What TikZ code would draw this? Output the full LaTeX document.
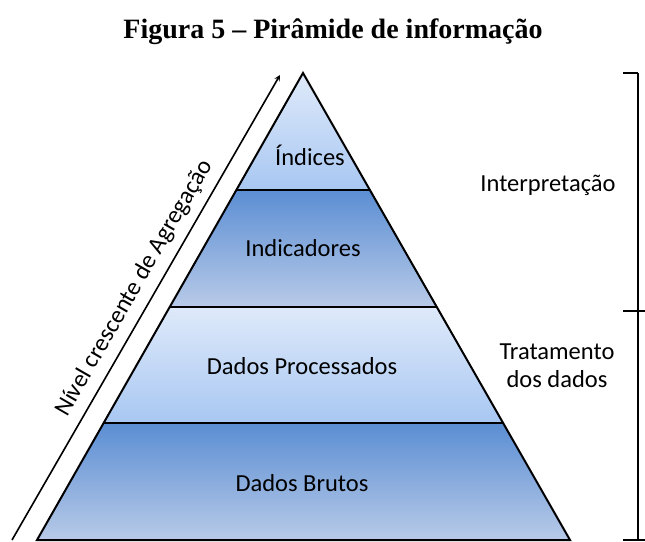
\documentclass[tikz,border=0pt]{standalone}
\usepackage{fontspec}
\setmainfont{Carlito}
\newfontfamily\titlefont{Liberation Serif}
\usepackage{tikz}
\usepackage{xcolor}
\usetikzlibrary{calc}
\definecolor{lightTop}{HTML}{DFEAFA}
\definecolor{lightBot}{HTML}{A8C7F2}
\definecolor{darkTop}{HTML}{5B8ED3}
\definecolor{darkBot}{HTML}{B8CAE8}
\tikzstyle{layer} = [draw=black, line width=2pt]
\tikzstyle{lbl} = [font=\fontsize{24.5}{28}\selectfont]

\begin{document}
\begin{tikzpicture}[x=1pt,y=-1pt,>=stealth,line width=1.6pt]
  \useasboundingbox (0,0) rectangle (645,541);
  \node[font=\titlefont\bfseries\fontsize{28}{32}\selectfont] (title) at (333,32) {Figura 5 – Pirâmide de informação};

  % pyramid corners and layer limits
  \coordinate (top) at (303,73);
  \coordinate (bl) at (37,540);
  \coordinate (br) at (570,540);
  \coordinate (l1) at ($(top)!0.25!(bl)$);
  \coordinate (r1) at ($(top)!0.25!(br)$);
  \coordinate (l2) at ($(top)!0.5!(bl)$);
  \coordinate (r2) at ($(top)!0.5!(br)$);
  \coordinate (l3) at ($(top)!0.75!(bl)$);
  \coordinate (r3) at ($(top)!0.75!(br)$);

  \shade[top color=lightTop, bottom color=lightBot] (top) -- (l1) -- (r1) -- cycle;
  \shade[top color=darkTop, bottom color=darkBot] (l1) -- (l2) -- (r2) -- (r1) -- cycle;
  \shade[top color=lightTop, bottom color=lightBot] (l2) -- (l3) -- (r3) -- (r2) -- cycle;
  \shade[top color=darkTop, bottom color=darkBot] (l3) -- (bl) -- (br) -- (r3) -- cycle;

  \draw[layer] (top) -- (bl) -- (br) -- cycle;
  \draw[layer] (l1) -- (r1);
  \draw[layer] (l2) -- (r2);
  \draw[layer] (l3) -- (r3);

  \node[lbl] (indices) at (310,155) {Índices};
  \node[lbl] (indicadores) at (303,248) {Indicadores};
  \node[lbl] (processados) at (302,366) {Dados Processados};
  \node[lbl] (brutos) at (302,483) {Dados Brutos};

  % aggregation arrow
  \coordinate (a0) at (12,540);
  \coordinate (a1) at (280,75);
  \draw[->] (a0) -- node[lbl, sloped, above=5pt, pos=0.52] (nivel) {Nível crescente de Agregação} (a1);

  % bracket on the right
  \node[lbl] (interp) at (548,185) {Interpretação};
  \node[lbl, align=center] (trat) at (557,366) {Tratamento\\dos dados};
  \coordinate (b0) at (638,73);
  \coordinate (b1) at (638,311);
  \coordinate (b2) at (638,540);
  \coordinate (t0) at (623,73);
  \coordinate (t1) at (623,311);
  \coordinate (t1e) at (645,311);
  \coordinate (t2) at (623,540);
  \coordinate (t2e) at (645,540);
  \draw (b0) -- (b2);
  \draw (t0) -- (b0);
  \draw (t1) -- (t1e);
  \draw (t2) -- (t2e);
\end{tikzpicture}
\end{document}
